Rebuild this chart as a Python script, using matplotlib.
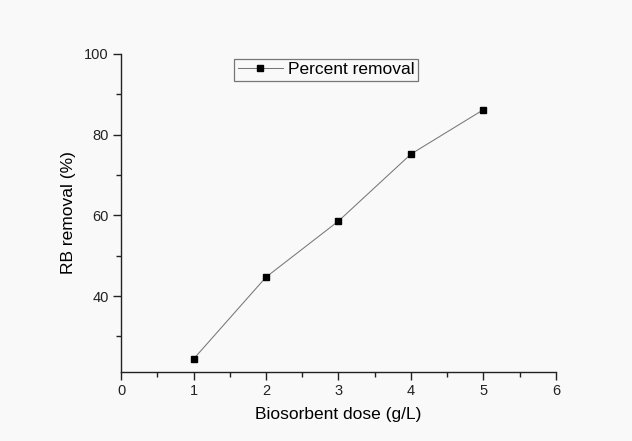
import matplotlib
matplotlib.use("Agg")
import matplotlib.pyplot as plt
from matplotlib.ticker import MultipleLocator

dose = [1, 2, 3, 4, 5]
removal = [24.4, 44.7, 58.6, 75.2, 86.2]
series_label = "Percent removal"
x_ticks = [0, 1, 2, 3, 4, 5, 6]
y_ticks = [40, 60, 80, 100]

plt.rcParams['font.family'] = ['Liberation Sans', 'DejaVu Sans']
bg = '#f9f9f9'
fig = plt.figure(figsize=(6.32, 4.41), dpi=100, facecolor=bg)
ax = fig.add_axes([0.1915, 0.1565, 0.6882, 0.7211], facecolor=bg)

ax.plot(dose, removal, color='#777777', lw=0.75, marker='s', ms=4.6,
        mfc='black', mec='black', label=series_label)

ax.set_xlim(0, 6)
ax.set_ylim(21.2, 100)
ax.set_xticks(x_ticks)
ax.set_yticks(y_ticks)
ax.xaxis.set_minor_locator(MultipleLocator(0.5))
ax.yaxis.set_minor_locator(MultipleLocator(10))
for s in ['top', 'right']:
    ax.spines[s].set_visible(False)
for s in ['left', 'bottom']:
    ax.spines[s].set_linewidth(1.0)
    ax.spines[s].set_color('#222222')
ax.tick_params(which='major', length=6, width=1.0, labelsize=10.5, colors='#222222', pad=3)
ax.tick_params(which='minor', length=3.5, width=1.0, colors='#222222')

ax.set_xlabel("Biosorbent dose (g/L)", fontsize=12.5, labelpad=6)
ax.set_ylabel("RB removal (%)", fontsize=12.5, labelpad=6)

leg = ax.legend(loc='upper left', bbox_to_anchor=(0.26, 0.985), fontsize=12.5,
                frameon=True, fancybox=False, handlelength=2.6, handletextpad=0.3,
                borderpad=0.2, borderaxespad=0)
leg.get_frame().set_edgecolor('#555555')
leg.get_frame().set_facecolor(bg)
leg.get_frame().set_linewidth(0.9)

fig.savefig("out.png", dpi=100, facecolor=bg)
